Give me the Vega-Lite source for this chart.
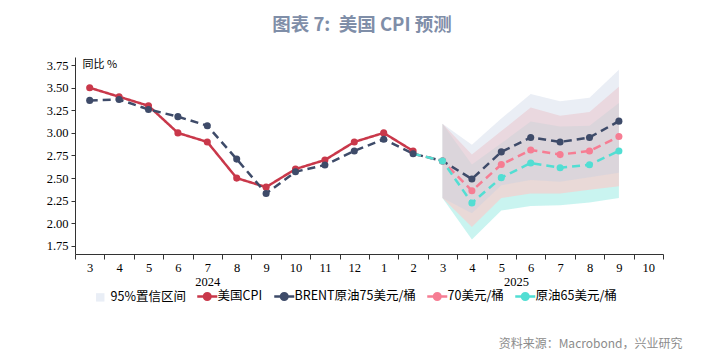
{
  "$schema": "https://vega.github.io/schema/vega-lite/v6.json",
  "width": 588,
  "height": 197,
  "autosize": {"type": "none"},
  "padding": {"left": 75, "top": 57, "right": 62, "bottom": 105},
  "background": "white",
  "title": {"text": "图表 7:\u00a0\u00a0美国 CPI 预测", "anchor": "middle", "frame": "group", "dx": -7, "offset": 23, "font": "Noto Sans CJK SC", "fontSize": 18.5, "fontWeight": "bold", "color": "#7F8EA8"},
  "config": {
    "view": {"stroke": null},
    "axis": {"labelFont": "Liberation Serif", "labelFontSize": 12.5, "labelColor": "#000", "domainColor": "#333", "tickColor": "#333", "grid": false}
  },
  "datasets": {
    "lines": [
      {"s": "美国CPI", "m": "2024-03", "v": 3.5},
      {"s": "美国CPI", "m": "2024-04", "v": 3.4},
      {"s": "美国CPI", "m": "2024-05", "v": 3.3},
      {"s": "美国CPI", "m": "2024-06", "v": 3.0},
      {"s": "美国CPI", "m": "2024-07", "v": 2.9},
      {"s": "美国CPI", "m": "2024-08", "v": 2.5},
      {"s": "美国CPI", "m": "2024-09", "v": 2.4},
      {"s": "美国CPI", "m": "2024-10", "v": 2.6},
      {"s": "美国CPI", "m": "2024-11", "v": 2.7},
      {"s": "美国CPI", "m": "2024-12", "v": 2.9},
      {"s": "美国CPI", "m": "2025-01", "v": 3.0},
      {"s": "美国CPI", "m": "2025-02", "v": 2.8},
      {"s": "BRENT原油75美元/桶", "m": "2024-03", "v": 3.36},
      {"s": "BRENT原油75美元/桶", "m": "2024-04", "v": 3.37},
      {"s": "BRENT原油75美元/桶", "m": "2024-05", "v": 3.26},
      {"s": "BRENT原油75美元/桶", "m": "2024-06", "v": 3.18},
      {"s": "BRENT原油75美元/桶", "m": "2024-07", "v": 3.08},
      {"s": "BRENT原油75美元/桶", "m": "2024-08", "v": 2.71},
      {"s": "BRENT原油75美元/桶", "m": "2024-09", "v": 2.33},
      {"s": "BRENT原油75美元/桶", "m": "2024-10", "v": 2.57},
      {"s": "BRENT原油75美元/桶", "m": "2024-11", "v": 2.645},
      {"s": "BRENT原油75美元/桶", "m": "2024-12", "v": 2.8},
      {"s": "BRENT原油75美元/桶", "m": "2025-01", "v": 2.93},
      {"s": "BRENT原油75美元/桶", "m": "2025-02", "v": 2.77},
      {"s": "BRENT原油75美元/桶", "m": "2025-03", "v": 2.69},
      {"s": "BRENT原油75美元/桶", "m": "2025-04", "v": 2.49},
      {"s": "BRENT原油75美元/桶", "m": "2025-05", "v": 2.79},
      {"s": "BRENT原油75美元/桶", "m": "2025-06", "v": 2.95},
      {"s": "BRENT原油75美元/桶", "m": "2025-07", "v": 2.90},
      {"s": "BRENT原油75美元/桶", "m": "2025-08", "v": 2.95},
      {"s": "BRENT原油75美元/桶", "m": "2025-09", "v": 3.13},
      {"s": "70美元/桶", "m": "2025-02", "v": 2.77},
      {"s": "70美元/桶", "m": "2025-03", "v": 2.69},
      {"s": "70美元/桶", "m": "2025-04", "v": 2.36},
      {"s": "70美元/桶", "m": "2025-05", "v": 2.65},
      {"s": "70美元/桶", "m": "2025-06", "v": 2.81},
      {"s": "70美元/桶", "m": "2025-07", "v": 2.76},
      {"s": "70美元/桶", "m": "2025-08", "v": 2.80},
      {"s": "70美元/桶", "m": "2025-09", "v": 2.96},
      {"s": "原油65美元/桶", "m": "2025-02", "v": 2.77},
      {"s": "原油65美元/桶", "m": "2025-03", "v": 2.69},
      {"s": "原油65美元/桶", "m": "2025-04", "v": 2.225},
      {"s": "原油65美元/桶", "m": "2025-05", "v": 2.505},
      {"s": "原油65美元/桶", "m": "2025-06", "v": 2.667},
      {"s": "原油65美元/桶", "m": "2025-07", "v": 2.615},
      {"s": "原油65美元/桶", "m": "2025-08", "v": 2.648},
      {"s": "原油65美元/桶", "m": "2025-09", "v": 2.80}
    ],
    "bands": [
      {"b": "75", "m": "2025-03", "lo": 2.28, "hi": 3.10},
      {"b": "75", "m": "2025-04", "lo": 2.11, "hi": 2.87},
      {"b": "75", "m": "2025-05", "lo": 2.42, "hi": 3.16},
      {"b": "75", "m": "2025-06", "lo": 2.48, "hi": 3.43},
      {"b": "75", "m": "2025-07", "lo": 2.46, "hi": 3.35},
      {"b": "75", "m": "2025-08", "lo": 2.51, "hi": 3.39},
      {"b": "75", "m": "2025-09", "lo": 2.56, "hi": 3.70},
      {"b": "70", "m": "2025-03", "lo": 2.28, "hi": 3.10},
      {"b": "70", "m": "2025-04", "lo": 1.96, "hi": 2.76},
      {"b": "70", "m": "2025-05", "lo": 2.28, "hi": 3.02},
      {"b": "70", "m": "2025-06", "lo": 2.33, "hi": 3.28},
      {"b": "70", "m": "2025-07", "lo": 2.33, "hi": 3.19},
      {"b": "70", "m": "2025-08", "lo": 2.37, "hi": 3.23},
      {"b": "70", "m": "2025-09", "lo": 2.41, "hi": 3.51},
      {"b": "65", "m": "2025-03", "lo": 2.28, "hi": 3.10},
      {"b": "65", "m": "2025-04", "lo": 1.82, "hi": 2.65},
      {"b": "65", "m": "2025-05", "lo": 2.14, "hi": 2.885},
      {"b": "65", "m": "2025-06", "lo": 2.19, "hi": 3.125},
      {"b": "65", "m": "2025-07", "lo": 2.20, "hi": 3.07},
      {"b": "65", "m": "2025-08", "lo": 2.23, "hi": 3.08},
      {"b": "65", "m": "2025-09", "lo": 2.28, "hi": 3.33}
    ]
  },
  "layer": [
    {
      "data": {"name": "bands"},
      "transform": [{"filter": "datum.b == '65'"}],
      "mark": {"type": "area", "color": "#65E0D4", "opacity": 0.35},
      "encoding": {
        "x": {"field": "m", "type": "ordinal", "bandPosition": 0.5, "scale": {"type": "band", "domain": ["2024-03","2024-04","2024-05","2024-06","2024-07","2024-08","2024-09","2024-10","2024-11","2024-12","2025-01","2025-02","2025-03","2025-04","2025-05","2025-06","2025-07","2025-08","2025-09","2025-10"], "paddingInner": 0, "paddingOuter": 0}, "axis": null},
        "y": {"field": "lo", "type": "quantitative", "scale": {"domain": [1.66, 3.84], "nice": false, "zero": false}, "axis": {"values": [1.75,2,2.25,2.5,2.75,3,3.25,3.5,3.75], "format": ".2f", "tickSize": 4, "labelPadding": 3, "title": "同比 %", "titleAngle": 0, "titleAlign": "left", "titleBaseline": "middle", "titleX": 7, "titleY": 7, "titleFont": "Noto Sans CJK SC", "titleFontSize": 11, "titleFontWeight": "normal", "titleColor": "#000"}},
        "y2": {"field": "hi"}
      }
    },
    {
      "data": {"name": "bands"},
      "transform": [{"filter": "datum.b == '70'"}],
      "mark": {"type": "area", "color": "#FFC6C6", "opacity": 0.6},
      "encoding": {
        "x": {"field": "m", "type": "ordinal", "bandPosition": 0.5, "scale": {"type": "band", "domain": ["2024-03","2024-04","2024-05","2024-06","2024-07","2024-08","2024-09","2024-10","2024-11","2024-12","2025-01","2025-02","2025-03","2025-04","2025-05","2025-06","2025-07","2025-08","2025-09","2025-10"], "paddingInner": 0, "paddingOuter": 0}, "axis": null},
        "y": {"field": "lo", "type": "quantitative", "scale": {"domain": [1.66, 3.84], "nice": false, "zero": false}, "axis": {"values": [1.75,2,2.25,2.5,2.75,3,3.25,3.5,3.75], "format": ".2f", "tickSize": 4, "labelPadding": 3, "title": "同比 %", "titleAngle": 0, "titleAlign": "left", "titleBaseline": "middle", "titleX": 7, "titleY": 7, "titleFont": "Noto Sans CJK SC", "titleFontSize": 11, "titleFontWeight": "normal", "titleColor": "#000"}},
        "y2": {"field": "hi"}
      }
    },
    {
      "data": {"name": "bands"},
      "transform": [{"filter": "datum.b == '75'"}],
      "mark": {"type": "area", "color": "#C3CEE2", "opacity": 0.35},
      "encoding": {
        "x": {"field": "m", "type": "ordinal", "bandPosition": 0.5, "scale": {"type": "band", "domain": ["2024-03","2024-04","2024-05","2024-06","2024-07","2024-08","2024-09","2024-10","2024-11","2024-12","2025-01","2025-02","2025-03","2025-04","2025-05","2025-06","2025-07","2025-08","2025-09","2025-10"], "paddingInner": 0, "paddingOuter": 0}, "axis": null},
        "y": {"field": "lo", "type": "quantitative", "scale": {"domain": [1.66, 3.84], "nice": false, "zero": false}, "axis": {"values": [1.75,2,2.25,2.5,2.75,3,3.25,3.5,3.75], "format": ".2f", "tickSize": 4, "labelPadding": 3, "title": "同比 %", "titleAngle": 0, "titleAlign": "left", "titleBaseline": "middle", "titleX": 7, "titleY": 7, "titleFont": "Noto Sans CJK SC", "titleFontSize": 11, "titleFontWeight": "normal", "titleColor": "#000"}},
        "y2": {"field": "hi"}
      }
    },
    {
      "data": {"name": "lines"},
      "mark": {"type": "line", "strokeWidth": 2.5},
      "encoding": {
        "x": {"field": "m", "type": "ordinal", "bandPosition": 0.5, "scale": {"type": "band", "domain": ["2024-03","2024-04","2024-05","2024-06","2024-07","2024-08","2024-09","2024-10","2024-11","2024-12","2025-01","2025-02","2025-03","2025-04","2025-05","2025-06","2025-07","2025-08","2025-09","2025-10"], "paddingInner": 0, "paddingOuter": 0}, "axis": {"orient": "bottom", "tickBand": "extent", "tickSize": 5, "labelPadding": 2, "labelAngle": 0, "labelExpr": "isValid(datum.value) && datum.value != 'null' ? '' + toNumber(split(datum.value, '-')[1]) : ''", "title": "资料来源：Macrobond，兴业研究", "titleFont": "Noto Sans CJK SC", "titleFontSize": 12, "titleFontWeight": "normal", "titleColor": "#8C8C8C", "titleAngle": 0, "titleAlign": "right", "titleBaseline": "middle", "titleX": 607, "titleY": 89}},
        "y": {"field": "v", "type": "quantitative", "scale": {"domain": [1.66, 3.84], "nice": false, "zero": false}, "axis": {"values": [1.75,2,2.25,2.5,2.75,3,3.25,3.5,3.75], "format": ".2f", "tickSize": 4, "labelPadding": 3, "title": "同比 %", "titleAngle": 0, "titleAlign": "left", "titleBaseline": "middle", "titleX": 7, "titleY": 7, "titleFont": "Noto Sans CJK SC", "titleFontSize": 11, "titleFontWeight": "normal", "titleColor": "#000"}},
        "color": {"field": "s", "type": "nominal", "scale": {"domain": ["95%置信区间", "美国CPI", "BRENT原油75美元/桶", "70美元/桶", "原油65美元/桶"], "range": ["#E9EEF6", "#C9384A", "#3E4B69", "#F67D93", "#52DED3"]},
          "legend": {"orient": "none", "legendX": 19, "legendY": 233, "direction": "horizontal", "title": null, "symbolSize": 400, "labelOffset": 4, "columnPadding": 6, "labelFont": "Noto Sans CJK SC", "labelFontSize": 12.5, "labelColor": "#000", "labelLimit": 300,
            "encode": {"symbols": {"update": {
              "shape": {"signal": "datum.value === '95%置信区间' ? 'M-0.42,-0.42L0.42,-0.42L0.42,0.42L-0.42,0.42Z' : 'M-1,0L1,0M-0.33,0A0.33,0.33,0,1,0,0.33,0A0.33,0.33,0,1,0,-0.33,0'"},
              "fill": {"signal": "scale('color', datum.value)"},
              "stroke": {"signal": "scale('color', datum.value)"},
              "strokeWidth": {"signal": "datum.value === '95%置信区间' ? 0 : 2.5"},
              "strokeDash": {"value": []},
              "opacity": {"value": 1},
              "fillOpacity": {"value": 1},
              "strokeOpacity": {"value": 1}
            }}}}},
        "strokeDash": {"field": "s", "type": "nominal", "scale": {"domain": ["美国CPI", "BRENT原油75美元/桶", "70美元/桶", "原油65美元/桶"], "range": [[1, 0], [8, 5], [8, 5], [8, 5]]}, "legend": null}
      }
    },
    {
      "data": {"name": "lines"},
      "transform": [{"filter": "datum.s == '美国CPI' || datum.s == 'BRENT原油75美元/桶' || datum.m >= '2025-03'"}],
      "mark": {"type": "point", "filled": true, "size": 50, "opacity": 1},
      "encoding": {
        "x": {"field": "m", "type": "ordinal", "bandPosition": 0.5, "scale": {"type": "band", "domain": ["2024-03","2024-04","2024-05","2024-06","2024-07","2024-08","2024-09","2024-10","2024-11","2024-12","2025-01","2025-02","2025-03","2025-04","2025-05","2025-06","2025-07","2025-08","2025-09","2025-10"], "paddingInner": 0, "paddingOuter": 0}, "axis": null},
        "y": {"field": "v", "type": "quantitative", "scale": {"domain": [1.66, 3.84], "nice": false, "zero": false}, "axis": {"values": [1.75,2,2.25,2.5,2.75,3,3.25,3.5,3.75], "format": ".2f", "tickSize": 4, "labelPadding": 3, "title": "同比 %", "titleAngle": 0, "titleAlign": "left", "titleBaseline": "middle", "titleX": 7, "titleY": 7, "titleFont": "Noto Sans CJK SC", "titleFontSize": 11, "titleFontWeight": "normal", "titleColor": "#000"}},
        "color": {"field": "s", "type": "nominal", "scale": {"domain": ["95%置信区间", "美国CPI", "BRENT原油75美元/桶", "70美元/桶", "原油65美元/桶"], "range": ["#E9EEF6", "#C9384A", "#3E4B69", "#F67D93", "#52DED3"]},
          "legend": {"orient": "none", "legendX": 19, "legendY": 233, "direction": "horizontal", "title": null, "symbolSize": 400, "labelOffset": 4, "columnPadding": 6, "labelFont": "Noto Sans CJK SC", "labelFontSize": 12.5, "labelColor": "#000", "labelLimit": 300,
            "encode": {"symbols": {"update": {
              "shape": {"signal": "datum.value === '95%置信区间' ? 'M-0.42,-0.42L0.42,-0.42L0.42,0.42L-0.42,0.42Z' : 'M-1,0L1,0M-0.33,0A0.33,0.33,0,1,0,0.33,0A0.33,0.33,0,1,0,-0.33,0'"},
              "fill": {"signal": "scale('color', datum.value)"},
              "stroke": {"signal": "scale('color', datum.value)"},
              "strokeWidth": {"signal": "datum.value === '95%置信区间' ? 0 : 2.5"},
              "strokeDash": {"value": []},
              "opacity": {"value": 1},
              "fillOpacity": {"value": 1},
              "strokeOpacity": {"value": 1}
            }}}}}
      }
    },
    {
      "data": {"values": [{}]},
      "mark": {"type": "rule", "opacity": 0},
      "encoding": {
        "x": {"datum": 10, "type": "quantitative", "scale": {"domain": [0, 20], "nice": false, "zero": false}, "axis": {"orient": "bottom", "values": [4.5, 15], "labelExpr": "datum.value < 10 ? '2024' : '2025'", "domain": false, "ticks": false, "tickSize": 0, "labelPadding": 21, "title": null, "grid": false}}
      }
    }
  ],
  "resolve": {"scale": {"x": "independent"}}
}
